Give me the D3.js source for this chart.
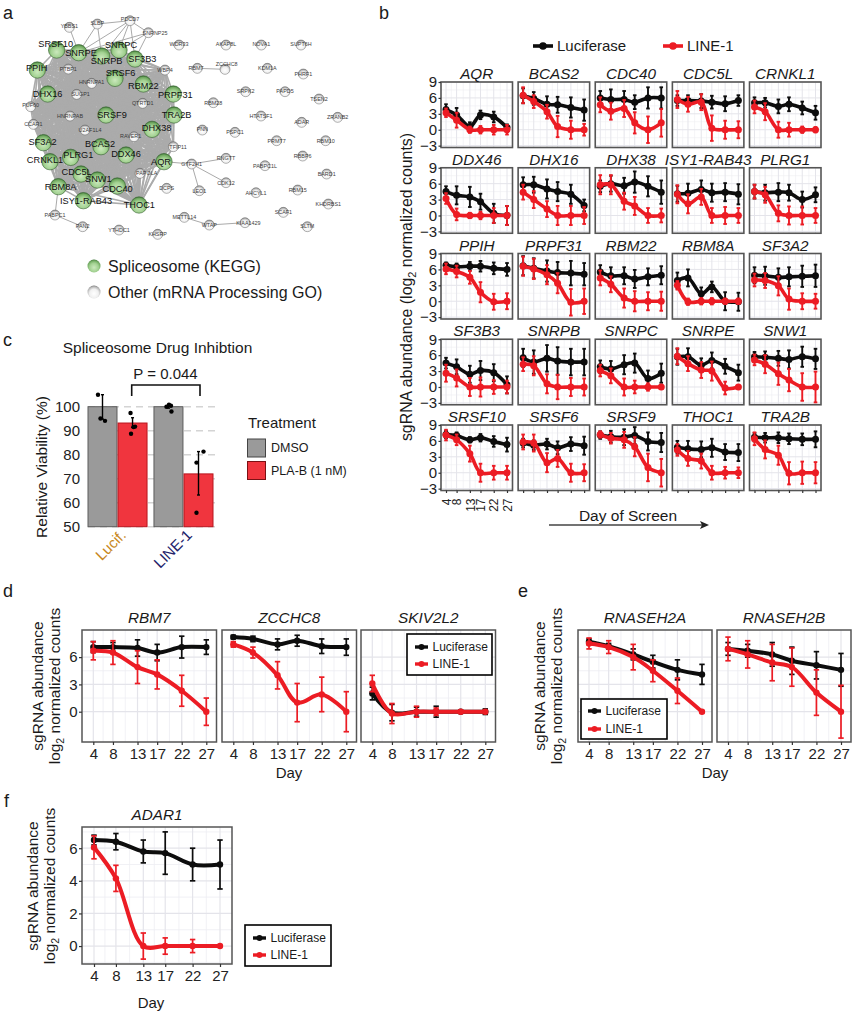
<!DOCTYPE html>
<html><head><meta charset="utf-8">
<script src="https://cdn.jsdelivr.net/npm/d3@7"></script>
<style>
html,body{margin:0;padding:0;background:#fff}
svg{display:block}
text{font-family:"Liberation Sans",Arial,sans-serif;fill:#1a1a1a}
</style></head><body>
<svg id="fig" width="855" height="1017" viewBox="0 0 855 1017"></svg>
<script>
// ---------- shared ----------
const days = [4, 8, 13, 17, 22, 27];
const RED = "#ec1c24", BLK = "#0d0d0d";

// ---------- panel a : network (layout units) ----------
const spliceNames = ["SRSF10","SNRPE","SNRPB","SNRPC","SF3B3","PPIH","SRSF6","RBM22","DHX16","PRPF31","SRSF9","TRA2B","DHX38","SF3A2","BCAS2","DDX46","PLRG1","CRNKL1","AQR","CDC5L","SNW1","CDC40","RBM8A","ISY1-RAB43","THOC1"];
const spliceX = [170,236,305,357,405,112,345,430,143,520,318,522,456,130,303,378,212,150,492,243,292,352,175,250,417];
const spliceY = [150,158,168,150,177,210,235,252,282,282,345,345,388,428,440,465,472,485,485,522,540,558,560,602,615];
const spliceLabelX = [167,243,320,363,427,110,362,430,143,526,336,530,470,128,300,378,235,135,483,230,295,353,182,258,418];
const spliceLabelY = [132,160,183,135,178,203,220,258,282,284,345,344,385,426,432,463,465,480,486,516,537,566,560,602,615];
const otherNames = ["YBBS1","SLBP","PDCD7","SNRNP25","WDR33","AKAP8L","NOVA1","SUPT6H","RBM7","ZCCHC8","KDM1A","PHRF1","WBP4","PTBP1","HNRNPA1","SUGP1","QTRTD1","PUF60","CCAR1","HNRNPAB","U2AF1L4","RAVER1","TFIP11","GTF2H1","PAPOLA","RNGTT","CDK12","LEO1","DCPS","METTL14","WTAP","KIAA1429","KHSRP","YTHDC1","PAN2","PABPC1","AHCYL1","RBM15","RBBP6","PABPC1L","RBM10","PRMT7","PSPC1","PNN","RBM28","SRPK2","PAPD5","TSEN2","HTATSF1","ADAR","ZRANB2","BARD1","KHDRBS1","SCAF1","SLTM"];
const otherX = [208,292,390,445,537,678,784,903,592,675,802,910,495,205,275,230,428,92,100,210,255,402,520,575,420,678,678,598,500,553,628,735,473,357,248,165,768,893,908,795,977,830,705,607,640,737,855,957,783,905,1013,980,985,850,922];
const otherY = [82,72,62,98,135,135,135,135,205,208,205,222,210,207,250,283,310,320,373,348,390,410,440,492,520,475,548,572,565,652,675,668,703,690,680,645,578,570,468,497,422,422,397,390,308,275,275,297,348,367,352,522,612,637,680];
const otherLabelX = [208,292,390,465,537,678,784,903,588,680,802,910,495,205,275,242,428,92,100,210,270,392,534,575,440,678,678,598,500,553,628,745,473,357,248,165,768,893,908,795,977,830,705,607,640,737,855,957,783,905,1013,980,985,850,922];
const otherLabelY = [78,68,58,98,133,133,133,133,205,193,203,222,210,207,245,283,308,316,372,348,390,408,440,491,520,473,548,572,565,652,675,668,701,690,677,645,578,570,468,497,422,422,397,388,308,273,273,297,348,367,352,522,612,637,678];
// clique of the dense core (everything listed here is joined to everything else)
const coreExtra = ["PTBP1","HNRNPA1","SUGP1","QTRTD1","PUF60","CCAR1","HNRNPAB","U2AF1L4","RAVER1","TFIP11","PAPOLA","WBP4"];
const sparseEdges = [["YBBS1","SNRPE"],["SLBP","SNRPE"],["SLBP","SNRPB"],["PDCD7","SNRPE"],["PDCD7","SNRPB"],["PDCD7","SNRPC"],["PDCD7","SF3B3"],["PDCD7","SLBP"],["PDCD7","SNRNP25"],["SNRNP25","SNRPC"],["SNRNP25","SF3B3"],["SNRNP25","SNRPE"],["GTF2H1","AQR"],["GTF2H1","RNGTT"],["GTF2H1","CDK12"],["GTF2H1","LEO1"],["RBM7","ZCCHC8"],["PABPC1","RBM8A"],["PABPC1","PAN2"],["METTL14","WTAP"],["WTAP","KIAA1429"],["PAPOLA","THOC1"],["PAPOLA","CDC40"]];
const legendA = ["Spliceosome (KEGG)","Other (mRNA Processing GO)"];

// ---------- panel b ----------
const genesB = ["AQR","BCAS2","CDC40","CDC5L","CRNKL1","DDX46","DHX16","DHX38","ISY1-RAB43","PLRG1","PPIH","PRPF31","RBM22","RBM8A","SF3A2","SF3B3","SNRPB","SNRPC","SNRPE","SNW1","SRSF10","SRSF6","SRSF9","THOC1","TRA2B"];
const lucMeanB = [
[3.8,2.8,0.6,2.8,2.4,0.4],[6.4,5.9,4.8,4.7,4.2,3.7],[6,5.7,5.7,5.2,6,6],[5.5,5.5,5.4,5.2,4.9,5.5],[5.1,5.1,4.4,4.8,4.1,3.2],
[4.5,3.8,3.5,2.6,0.4,0],[5.8,5.8,5,4.5,4,1.9],[5.5,6,5.6,6.3,5.5,4.4],[4.1,4.2,4.9,4.3,4.4,4],[4.5,4.3,4.4,4.3,3,3.9],
[6.8,6.5,6.6,6.6,6.2,6],[6.7,6.2,5.7,5.4,5.3,5.1],[5.5,4.8,4.8,4.2,4.6,4.9],[3.9,4.4,1.4,2.7,0,-0.1],[4.9,4.8,4.5,4.6,4.7,4.8],
[4.5,3.8,2.4,3.1,2.7,0.4],[5.5,4.7,5.4,4.9,4.7,4.7],[3.8,3.4,4.2,4.5,1.6,2.6],[5.7,5.7,4.1,5,3.9,2.7],[5.7,5.6,5.4,5.2,5.7,5.3],
[7.2,7,6.2,6.6,5.9,5.3],[5.6,5.2,5.4,4.7,5.4,5.1],[7.1,6.8,6.7,7,5.9,5.7],[4.8,4.5,4.4,4.7,3.9,3.8],[6.7,6.6,6.6,6.4,6.3,6.3]];
const lucErrB = [
[1,1.3,0.8,0.8,1,0.6],[1.4,1.2,1.5,1.5,1.9,2],[1.3,1.9,1.6,1.3,2,2],[1,1,1.3,1.2,1.4,1],[1,0.9,1.3,1.3,1.2,1.3],
[1,1.7,1.9,1.5,1.8,1.8],[1.4,1.5,1.8,1.8,1.8,1.1],[1.1,1.5,1.5,2,1.9,2.2],[1.5,1.8,1.7,1.7,1.7,1.9],[1.3,1.5,1.7,1.5,1.5,1.4],
[0.5,0.6,0.8,1,1.1,1.2],[1.8,1.9,2,2,2.3,2.1],[1.3,1.6,1.6,1.7,1.6,1.7],[1.5,1.6,1.2,1,1.7,1.7],[1.5,1.7,1.7,1.8,2,2.1],
[1,1.4,1.6,1.8,1.6,1.6],[1.7,2.2,2.5,2.6,2.5,2.5],[1.2,1.5,1.8,1.8,1.5,1.8],[1.5,1.6,1.3,1.5,1.4,1.5],[0.9,1.1,1.4,1.7,1.9,1.9],
[0.7,0.6,0.5,0.7,1,1.3],[0.8,0.9,1,1.2,1.3,1.7],[0.7,1.1,1.5,1.6,1.7,1.8],[1.2,1.5,1.5,1.7,1.5,1.6],[0.8,0.9,1,1,1.1,1.5]];
const lineMeanB = [
[3.2,1.8,0,0,0,0],[6.5,5.3,3.4,0.6,0,0],[4.7,3.5,4,1.3,0,1.3],[5.7,4.8,5.2,0.3,0,0],[4.3,3.4,0,0,0,0],
[3.2,0.2,0,0,0,0],[4.4,3,1.2,0,0,0],[5.8,5.8,2.7,1.8,0,0],[4,2.2,3.5,0,0,0],[4.5,3.9,0.4,0,0,0],
[6.1,5.6,4.5,1.7,-0.1,0],[6.6,6.1,5,3.4,-0.2,0],[4.4,3.2,0.6,0,0,0],[3,-0.1,0,0,0,0],[4,3.9,2.9,0.4,0,0],
[2.6,1.7,0,0,0,0],[4.3,4,0.6,0,0,0],[3.1,2.1,0,0,0,0],[5.8,4.4,3.2,3,-0.2,0],[5.1,4.3,2.5,1.3,0,0],
[7.1,6.2,3.6,0,0,0],[5.8,5.6,1.9,2.7,0,0],[7.2,6.5,6.2,4.9,1,0],[4.3,2.7,2.2,0,0,0],[6.4,4.4,3.3,-0.1,0,0]];
const lineErrB = [
[0.8,1.4,0.6,0.7,0.9,0.9],[1.5,1.2,1.3,2,1.7,1.1],[1.4,1.6,1.6,2,2.5,2.6],[1.6,1.4,1.5,2.4,1.7,1.6],[1.2,1.6,1.5,1.3,0.6,0.5],
[1,1.1,0.5,0.7,1.4,1.8],[1.4,1.6,1.5,1.8,1.8,1.6],[1.8,1.8,1.6,1.7,1.4,1.3],[1.7,1.8,1.5,1.4,1.6,1.4],[1.3,1.5,1.5,1.7,1.7,1.4],
[1,1.1,1.2,1.9,1.5,1.5],[1.8,1.9,1.8,1.9,2.5,2.4],[1.4,1.5,1.8,1.9,1.7,1.8],[0.8,0.6,0.6,0.6,0.5,0.5],[1.2,1.4,1.8,2,1.5,1.4],
[1.6,1.6,1.7,1.8,1.3,1.2],[1.3,1.8,1.8,2.3,1.7,1.6],[1.1,1.4,1.6,1.2,0.7,0.4],[1.5,1.4,1.5,1.8,1.2,0.3],[1,1.7,2.1,2.1,2.6,2.9],
[1,1,1.5,1.7,1.3,1.3],[1.4,1.6,1.8,1.6,1.7,1.6],[0.6,1,1.5,1.8,2.6,2.6],[1.1,1.4,1.4,1.3,1.1,1],[1.2,1.7,1.8,2.1,2.1,2]];
const yTicksB = [-3,0,3,6,9];

// ---------- panel c ----------
const groupsC = ["Lucif.","LINE-1"];
const treatmentsC = ["DMSO","PLA-B (1 nM)"];
const barMeansC = [100,93.2,100,72];
const barLowC = [94.8,91.4,99.4,63.2];
const barHighC = [105,95.4,100.6,81.3];
const dotValuesC = [[105,95.1,94.1],[97.4,91.5,91.7,88.7],[100,100.8,100.4,98],[81.3,76.7,55.8]];
const dotOffsetsC = [[-4.5,-2,2.5],[-2,1,2.5,-1.5],[-2,0.5,2.5,3],[5,-2,-2]];
const yTicksC = [50,60,70,80,90,100];

// ---------- panels d, e, f ----------
const genesD = ["RBM7","ZCCHC8","SKIV2L2"];
const lucMeanD = [[7.1,7.1,7,6.5,7.1,7.1],[8.2,8,7.4,7.8,7.2,7.1],[2,-0.1,0,0,0,0]];
const lucErrD = [[0.6,0.5,0.9,0.9,1.2,0.8],[0.2,0.3,0.6,0.6,0.8,0.9],[0.7,0.9,0.5,0.6,0.1,0.3]];
const lineMeanD = [[6.7,6.5,4.9,4.1,2.3,0],[7.4,6.5,4,1,1.9,0],[3.1,-0.2,0,0,0,0]];
const lineErrD = [[1,1.3,1.8,1.6,1.7,1.5],[0.3,0.6,1.5,2.1,1.9,2.2],[0.9,1.1,0.6,0.4,0.1,0.1]];
const genesE = ["RNASEH2A","RNASEH2B"];
const lucMeanE = [[7.7,7.2,6.3,5.5,4.6,4.1],[6.9,6.7,6.3,5.6,5.1,4.6]];
const lucErrE = [[0.3,0.3,0.6,0.7,1.1,1.1],[0.7,0.7,1.3,1.5,1.5,1.8]];
const lineMeanE = [[7.5,7.1,6,4.5,2.3,0],[6.9,6.3,5.4,4.9,2.1,0]];
const lineErrE = [[0.6,0.7,1.4,1.2,1.4,0.1],[1.3,1.5,2,2.1,2.5,2.9]];
const genesF = ["ADAR1"];
const lucMeanF = [[6.5,6.4,5.8,5.7,5,5]];
const lucErrF = [[0.3,0.5,0.7,1.3,1,1.5]];
const lineMeanF = [[6.05,4.15,0,0,0,0]];
const lineErrF = [[0.7,0.8,0.8,0.5,0.4,0.02]];
const seriesNames = ["Luciferase","LINE-1"];

// ---------- drawing ----------
const svg = d3.select("#fig");
const defs = svg.append("defs");
function sphere(id, stops){
  const g = defs.append("radialGradient").attr("id",id).attr("cx",0.5).attr("cy",0.62).attr("r",0.62);
  stops.forEach(s=>g.append("stop").attr("offset",s[0]).attr("stop-color",s[1]));
}
sphere("gGreen",[[0,"#cbe9bd"],[0.55,"#a2d191"],[0.85,"#6fa85f"],[1,"#3b7335"]]);
sphere("gGray",[[0,"#ffffff"],[0.55,"#f0f0f0"],[0.85,"#b5b5b5"],[1,"#767676"]]);

function letter(t,x,y){ svg.append("text").attr("x",x).attr("y",y).attr("font-size",18).text(t); }
letter("a",3,19); letter("b",379,19); letter("c",3,346); letter("d",3,597); letter("e",518,597); letter("f",4,807);

// ----- a -----
(function(){
  const sx = d3.scaleLinear().domain([0,370*3]).range([0,370]);
  const sy = d3.scaleLinear().domain([0,310*3]).range([0,310]);
  const G = svg.append("g");
  const pos = new Map();
  spliceNames.forEach((n,i)=>pos.set(n,[sx(spliceX[i]),sy(spliceY[i])]));
  otherNames.forEach((n,i)=>pos.set(n,[sx(otherX[i]),sy(otherY[i])]));
  const core = spliceNames.concat(coreExtra);
  const pairs = [];
  core.forEach((a,i)=>core.forEach((b,j)=>{ if(j>i) pairs.push([a,b]); }));
  G.append("g").selectAll("line").data(pairs).join("line")
    .attr("x1",d=>pos.get(d[0])[0]).attr("y1",d=>pos.get(d[0])[1])
    .attr("x2",d=>pos.get(d[1])[0]).attr("y2",d=>pos.get(d[1])[1])
    .attr("stroke","#ababab").attr("stroke-width",1.6);
  G.append("g").selectAll("line").data(sparseEdges).join("line")
    .attr("x1",d=>pos.get(d[0])[0]).attr("y1",d=>pos.get(d[0])[1])
    .attr("x2",d=>pos.get(d[1])[0]).attr("y2",d=>pos.get(d[1])[1])
    .attr("stroke","#aaaaaa").attr("stroke-width",1);
  G.append("g").selectAll("circle").data(otherNames).join("circle")
    .attr("cx",d=>pos.get(d)[0]).attr("cy",d=>pos.get(d)[1]).attr("r",5)
    .attr("fill","url(#gGray)").attr("stroke","#6a6a6a").attr("stroke-width",0.5);
  G.append("g").attr("opacity",0.95).selectAll("text").data(otherNames).join("text")
    .attr("x",(d,i)=>sx(otherLabelX[i])).attr("y",(d,i)=>sy(otherLabelY[i]))
    .attr("text-anchor","middle").attr("dominant-baseline","central")
    .attr("font-size",5.4).style("fill","#333").text(d=>d);
  G.append("g").selectAll("circle").data(spliceNames).join("circle")
    .attr("cx",d=>pos.get(d)[0]).attr("cy",d=>pos.get(d)[1]).attr("r",8.2)
    .attr("fill","url(#gGreen)").attr("stroke","#35632f").attr("stroke-width",0.6);
  G.append("g").selectAll("text").data(spliceNames).join("text")
    .attr("x",(d,i)=>sx(spliceLabelX[i])).attr("y",(d,i)=>sy(spliceLabelY[i]))
    .attr("text-anchor","middle").attr("dominant-baseline","central")
    .attr("font-size",9.2).style("fill","#111").text(d=>d);
  const fills = ["url(#gGreen)","url(#gGray)"];
  const ly = d3.scalePoint().domain(legendA).range([266,292]);
  const L = svg.append("g").selectAll("g").data(legendA).join("g").attr("transform",d=>`translate(0,${ly(d)})`);
  L.append("circle").attr("cx",94).attr("r",6.5).attr("fill",(d,i)=>fills[i]);
  L.append("text").attr("x",108).attr("dy","0.35em").attr("font-size",16).text(d=>d);
})();

// generic panel
function panel(o){
  const g = svg.append("g").attr("transform",`translate(${o.x},${o.y})`);
  const x = d3.scaleLinear().domain([4,27]).range([o.xPad0,o.xPad1]);
  const y = d3.scaleLinear().domain(o.yDomain).range([o.h,0]);
  const grid = g.append("g");
  const majX = days, minX = d3.pairs(days).map(p=>(p[0]+p[1])/2);
  const majY = o.yGrid, minY = d3.pairs(majY).map(p=>(p[0]+p[1])/2).concat(o.yMinorExtra||[]);
  grid.selectAll(".minx").data(minX).join("line").attr("x1",x).attr("x2",x).attr("y1",0).attr("y2",o.h).attr("stroke","#eeeef2").attr("stroke-width",o.minorW);
  grid.selectAll(".miny").data(minY).join("line").attr("y1",y).attr("y2",y).attr("x1",0).attr("x2",o.w).attr("stroke","#eeeef2").attr("stroke-width",o.minorW);
  grid.selectAll(".majx").data(majX).join("line").attr("class","majx").attr("x1",x).attr("x2",x).attr("y1",0).attr("y2",o.h).attr("stroke","#e4e4ea").attr("stroke-width",o.majorW);
  grid.selectAll(".majy").data(majY).join("line").attr("class","majy").attr("y1",y).attr("y2",y).attr("x1",0).attr("x2",o.w).attr("stroke","#e4e4ea").attr("stroke-width",o.majorW);

  const line = d3.line().x((d,i)=>x(days[i])).y(d=>y(d)).curve(d3.curveCatmullRom.alpha(0.5));
  [[o.luc,o.lucE,BLK],[o.lin,o.linE,RED]].forEach(([m,e,c])=>{
    const s = g.append("g");
    const idx = d3.range(days.length);
    s.selectAll(".eb").data(idx).join("line").attr("class","eb").attr("x1",i=>x(days[i])).attr("x2",i=>x(days[i]))
      .attr("y1",i=>y(m[i]-e[i])).attr("y2",i=>y(m[i]+e[i])).attr("stroke",c).attr("stroke-width",o.errW);
    [1,-1].forEach(sg=>{
      s.selectAll(".cap"+(sg>0?"a":"b")).data(idx).join("line").attr("class","cap"+(sg>0?"a":"b"))
        .attr("x1",i=>x(days[i])-o.cap).attr("x2",i=>x(days[i])+o.cap)
        .attr("y1",i=>y(m[i]+sg*e[i])).attr("y2",i=>y(m[i]+sg*e[i])).attr("stroke",c).attr("stroke-width",o.errW);
    });
    s.append("path").attr("d",line(m)).attr("fill","none").attr("stroke",c).attr("stroke-width",o.lineW).attr("stroke-linecap","round");
    s.selectAll("circle").data(m).join("circle").attr("cx",(d,i)=>x(days[i])).attr("cy",d=>y(d)).attr("r",o.r).attr("fill",c);
  });
  g.append("rect").attr("width",o.w).attr("height",o.h).attr("fill","none").attr("stroke","#555").attr("stroke-width",o.borderW);
  g.append("text").attr("x",o.w/2).attr("y",-o.titleGap).attr("text-anchor","middle").attr("font-style","italic").attr("font-size",o.titleSize).text(o.title);

  // axes
  const style = a=>{ a.select(".domain").remove(); a.selectAll("line").attr("stroke","#333").attr("stroke-width",o.tickW||1.2); };
  if(o.yTicks){
    const ya = g.append("g").call(d3.axisLeft(y).tickValues(o.yTicks).tickSize(o.tickLen).tickPadding(1.5).tickFormat(d=>d<0?"\u2212"+(-d):d)).call(style);
    ya.selectAll("text").attr("font-size",o.tickSize).style("fill","#222");
  }
  if(o.xTicks){
    const xa = g.append("g").attr("transform",`translate(0,${o.h})`).call(d3.axisBottom(x).tickValues(days).tickSize(o.tickLen).tickFormat(o.xLabels?d3.format("d"):"")).call(style);
    xa.selectAll("text").attr("font-size",o.xTickSize||o.tickSize).style("fill","#222");
    if(o.xVertical) xa.selectAll("text").attr("transform","rotate(-90)").attr("text-anchor","end").attr("x",-8).attr("y",0).attr("dy","0.35em");
  }
  if(o.xMarksOnly) {
    g.append("g").attr("transform",`translate(0,${o.h})`).call(d3.axisBottom(x).tickValues(days).tickSize(o.tickLen).tickFormat("")).call(style);
  }
  return g;
}

// ----- b -----
genesB.forEach((name,i)=>{
  const col=i%5,row=Math.floor(i/5);
  const px = d3.scaleLinear().domain([0,4]).range([441,749.5])(col);
  const py = d3.scaleLinear().domain([0,4]).range([82,425])(row);
  panel({x:px,y:py,w:71.5,h:65.5,xPad0:5,xPad1:66,yDomain:[-3.35,9],yGrid:yTicksB,
    luc:lucMeanB[i],lucE:lucErrB[i],lin:lineMeanB[i],linE:lineErrB[i],title:name,titleGap:3,titleSize:15.3,
    minorW:.6,majorW:1,errW:1.9,cap:1.8,lineW:3.6,r:3.5,borderW:1.6,
    yTicks:col===0?yTicksB:null,tickSize:15,xTickSize:12,tickLen:2.5,
    xTicks:row===4&&col===0,xLabels:true,xVertical:true,xMarksOnly:row===4&&col>0});
});
svg.append("text").attr("transform","translate(412,287) rotate(-90)").attr("text-anchor","middle").attr("font-size",15.9)
  .call(t=>{t.append("tspan").text("sgRNA abundance (log");t.append("tspan").attr("font-size",11).attr("dy",4).text("2");t.append("tspan").attr("dy",-4).text(" normalized counts)");});
function hLegend(xs,y,names,lenL,fs,lw,r){
  names.forEach((n,i)=>{
    const c=[BLK,RED][i];
    svg.append("line").attr("x1",xs[i]).attr("x2",xs[i]+lenL).attr("y1",y).attr("y2",y).attr("stroke",c).attr("stroke-width",lw);
    svg.append("circle").attr("cx",xs[i]+lenL/2).attr("cy",y).attr("r",r).attr("fill",c);
    svg.append("text").attr("x",xs[i]+lenL+4).attr("y",y).attr("dy","0.35em").attr("font-size",fs).text(n);
  });
}
hLegend([533,663],46,seriesNames,20,15,3.6,3.8);
svg.append("text").attr("x",628).attr("y",521).attr("text-anchor","middle").attr("font-size",15.5).text("Day of Screen");
svg.append("line").attr("x1",549).attr("x2",704).attr("y1",525).attr("y2",525).attr("stroke","#444").attr("stroke-width",1.5);
svg.append("path").attr("d",d3.line()([[700,521],[709,525],[700,529],[702,525]])+"Z").attr("fill","#222");

// ----- c -----
(function(){
  const g = svg.append("g");
  const y = d3.scaleLinear().domain([50,100]).range([526.7,406.7]);
  const x0 = d3.scaleBand().domain(groupsC).range([88,213]).paddingInner(0.105).paddingOuter(0);
  const x1 = d3.scaleBand().domain(treatmentsC).range([0,x0.bandwidth()]).paddingInner(0.035);
  const rows = d3.cross(groupsC,treatmentsC);
  g.selectAll(".gl").data(yTicksC).join("line").attr("x1",88).attr("x2",220).attr("y1",y).attr("y2",y)
    .attr("stroke","#d4d4d4").attr("stroke-width",1.4).attr("stroke-dasharray","7 5");
  const colF=["#9a9a9a","#f0353e"], colS=["#5c5c5c","#b8161e"];
  g.selectAll("rect").data(rows).join("rect")
    .attr("x",d=>x0(d[0])+x1(d[1])).attr("width",x1.bandwidth())
    .attr("y",(d,i)=>y(barMeansC[i])).attr("height",(d,i)=>y(50)-y(barMeansC[i]))
    .attr("fill",(d,i)=>colF[i%2]).attr("stroke",(d,i)=>colS[i%2]).attr("stroke-width",1);
  rows.forEach((d,i)=>{
    const cx = x0(d[0])+x1(d[1])+x1.bandwidth()/2;
    g.append("line").attr("x1",cx).attr("x2",cx).attr("y1",y(barLowC[i])).attr("y2",y(barHighC[i])).attr("stroke","#000").attr("stroke-width",1.4);
    [barLowC[i],barHighC[i]].forEach(v=>g.append("line").attr("x1",cx-1.5).attr("x2",cx+1.5).attr("y1",y(v)).attr("y2",y(v)).attr("stroke","#000").attr("stroke-width",1.4));
    g.selectAll(null).data(dotValuesC[i]).join("circle").attr("cx",(v,j)=>cx+dotOffsetsC[i][j]).attr("cy",v=>y(v)).attr("r",2.2).attr("fill","#000");
  });
  const ax = g.append("g").attr("transform","translate(82,0)").call(d3.axisLeft(y).tickValues(yTicksC).tickSize(0).tickPadding(2));
  ax.select(".domain").remove();
  ax.selectAll("text").attr("font-size",15).style("fill","#222");
  svg.append("text").attr("transform","translate(47,467) rotate(-90)").attr("text-anchor","middle").attr("font-size",15.5).text("Relative Viability (%)");
  svg.append("text").attr("x",157.5).attr("y",353).attr("text-anchor","middle").attr("font-size",15.5).text("Spliceosome Drug Inhibtion");
  svg.append("text").attr("x",165.5).attr("y",379).attr("text-anchor","middle").attr("font-size",15).text("P = 0.044");
  svg.append("path").attr("d",d3.line()([[131.7,396],[131.7,385],[200,385],[200,396]])).attr("fill","none").attr("stroke","#111").attr("stroke-width",1.6);
  const labC=["#c8881c","#22226a"], labX=[127,193];
  groupsC.forEach((n,i)=>svg.append("text").attr("transform",`translate(${labX[i]},536) rotate(-45)`).attr("text-anchor","end").attr("font-size",15).style("fill",labC[i]).text(n));
  svg.append("text").attr("x",248).attr("y",428).attr("font-size",15).text("Treatment");
  treatmentsC.forEach((n,i)=>{
    const ty=[439,461.5][i];
    svg.append("rect").attr("x",247.5).attr("y",ty).attr("width",18).attr("height",18).attr("fill",colF[i]).attr("stroke",i?"#7c1014":"#444").attr("stroke-width",1);
    svg.append("text").attr("x",271).attr("y",ty+9).attr("dy","0.35em").attr("font-size",12.5).text(n);
  });
})();

// ----- d, e, f -----
const bigOpts = {yGrid:[0,3,6],titleGap:7,titleSize:15.3,minorW:.8,majorW:1.2,errW:1.7,cap:2.7,lineW:4,r:3.2,borderW:1.5,tickSize:15,tickLen:3,xTicks:true,xLabels:true};
function yLabel2(x,y,fs,gap){
  svg.append("text").attr("transform",`translate(${x},${y}) rotate(-90)`).attr("text-anchor","middle").attr("font-size",fs).text("sgRNA abundance");
  svg.append("text").attr("transform",`translate(${x+gap},${y}) rotate(-90)`).attr("text-anchor","middle").attr("font-size",fs)
    .call(t=>{t.append("tspan").text("log");t.append("tspan").attr("font-size",fs*.68).attr("dy",4).text("2");t.append("tspan").attr("dy",-4).text(" normalized counts");});
}
function boxLegend(x,y,w,h,yRows,lx,fs){
  svg.append("rect").attr("x",x).attr("y",y).attr("width",w).attr("height",h).attr("fill","#fff").attr("stroke","#000").attr("stroke-width",1.6);
  seriesNames.forEach((n,i)=>{
    const c=[BLK,RED][i];
    svg.append("line").attr("x1",lx).attr("x2",lx+13).attr("y1",yRows[i]).attr("y2",yRows[i]).attr("stroke",c).attr("stroke-width",3.4);
    svg.append("circle").attr("cx",lx+6.5).attr("cy",yRows[i]).attr("r",3).attr("fill",c);
    svg.append("text").attr("x",lx+17.5).attr("y",yRows[i]).attr("dy","0.35em").attr("font-size",fs).text(n);
  });
}
genesD.forEach((name,i)=>{
  panel(Object.assign({},bigOpts,{x:[82,222,361][i],y:630,w:134.5,h:112,xPad0:11.3,xPad1:124.3,yDomain:[-3.33,8.98],
    luc:lucMeanD[i],lucE:lucErrD[i],lin:lineMeanD[i],linE:lineErrD[i],title:name,yTicks:i===0?[0,3,6]:null}));
});
yLabel2(43,686,15.5,17);
svg.append("text").attr("x",289).attr("y",778).attr("text-anchor","middle").attr("font-size",15).text("Day");
boxLegend(407,634,85,41,[647,664],415,12);

genesE.forEach((name,i)=>{
  panel(Object.assign({},bigOpts,{x:[578,717][i],y:630,w:134,h:112,xPad0:11,xPad1:124,yDomain:[-3.33,8.98],
    luc:lucMeanE[i],lucE:lucErrE[i],lin:lineMeanE[i],linE:lineErrE[i],title:name,yTicks:null}));
});
yLabel2(545,686,15.5,17);
svg.append("text").attr("x",715).attr("y",778).attr("text-anchor","middle").attr("font-size",15).text("Day");
boxLegend(581,699,86,40,[711,729],588,12);

panel(Object.assign({},bigOpts,{x:82,y:827,w:150,h:137,xPad0:12,xPad1:138,yDomain:[-1.1,7.3],yGrid:[0,2,4,6],
  yMinorExtra:[7,-1],
  luc:lucMeanF[0],lucE:lucErrF[0],lin:lineMeanF[0],linE:lineErrF[0],title:genesF[0],yTicks:[0,2,4,6]}));
yLabel2(38,886,15.5,17);
svg.append("text").attr("x",151).attr("y",1008).attr("text-anchor","middle").attr("font-size",15).text("Day");
boxLegend(245,925,86,41,[938,955],253,12);
</script>
</body></html>
